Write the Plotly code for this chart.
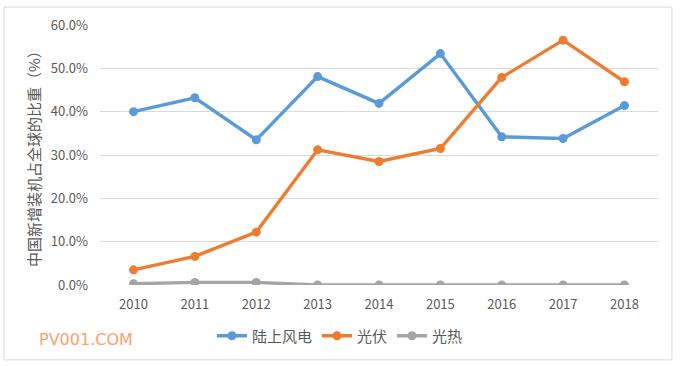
import plotly.graph_objects as go

years = ["2010", "2011", "2012", "2013", "2014", "2015", "2016", "2017", "2018"]
wind = [40.0, 43.2, 33.5, 48.1, 41.9, 53.4, 34.2, 33.8, 41.4]
pv = [3.5, 6.6, 12.2, 31.2, 28.5, 31.5, 47.9, 56.5, 46.9]
csp = [0.3, 0.6, 0.6, 0.0, 0.0, 0.0, 0.0, 0.0, 0.0]
names = ["陆上风电", "光伏", "光热"]
colors = ["#5B9BD5", "#ED7D31", "#A5A5A5"]
yticks = [0, 10, 20, 30, 40, 50, 60]
ytext = [f"{v:.1f}%" for v in yticks]

FONT = "Noto Sans CJK SC, Liberation Sans, sans-serif"

fig = go.Figure()
for name, vals, c in zip(names, [wind, pv, csp], colors):
    fig.add_trace(go.Scatter(
        x=years, y=vals, name=name, mode="lines+markers",
        line=dict(color=c, width=3.4),
        marker=dict(color=c, size=9),
    ))

fig.update_layout(
    width=682, height=366,
    margin=dict(l=100, r=24, t=25, b=81),
    paper_bgcolor="white", plot_bgcolor="white",
    font=dict(family=FONT, color="#595959", size=12),
    showlegend=True,
    legend=dict(orientation="h", x=0.43, xanchor="center", y=-0.196, yanchor="middle",
                font=dict(size=15, color="#595959"), itemwidth=30,
                traceorder="normal"),
    xaxis=dict(type="category", showgrid=False, showline=False, ticks="",
               tickfont=dict(size=13, color="#595959"), zeroline=False,
               ticklabelstandoff=10),
    yaxis=dict(range=[0, 60], tickvals=yticks, ticktext=ytext, showgrid=True,
               gridcolor="#D9D9D9", gridwidth=1, zeroline=False, showline=False,
               ticks="", tickfont=dict(size=13, color="#595959"),
               ticklabelstandoff=11),
    shapes=[dict(type="rect", xref="paper", yref="paper",
                 x0=-0.172, x1=1.025, y0=-0.288, y1=1.069,
                 line=dict(color="#D9D9D9", width=1))],
    annotations=[
        dict(text="中国新增装机占全球的比重（%）", xref="paper", yref="paper",
             x=-0.12, y=0.5, textangle=-90, showarrow=False,
             font=dict(size=15, color="#595959"), xanchor="center", yanchor="middle"),
        dict(text="PV001.COM", xref="paper", yref="paper",
             x=-0.113, y=-0.21, showarrow=False, xanchor="left", yanchor="middle",
             font=dict(size=16, color="#F5A46E", family="DejaVu Sans, sans-serif")),
    ],
)

fig.write_html("out.html", config={"displayModeBar": False},
               post_script="document.body.style.margin='0px';")
